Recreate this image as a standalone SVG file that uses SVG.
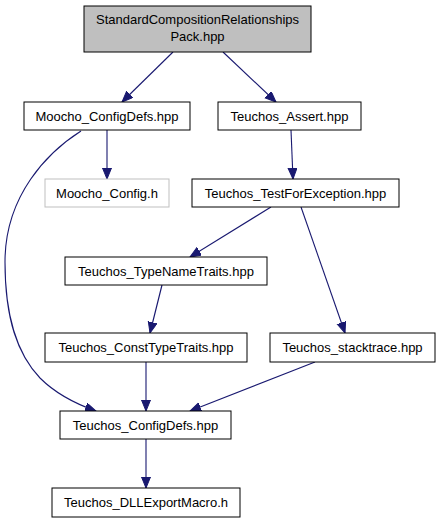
<svg xmlns="http://www.w3.org/2000/svg" width="441" height="523" viewBox="0 0 441 523">
<style>
.n rect{fill:#fff;stroke:#000;stroke-width:1}
.n text{font-family:"Liberation Sans",Arial,sans-serif;font-size:13px;fill:#000;text-anchor:middle}
.e path{fill:none;stroke:#191970;stroke-width:1.1}
</style>
<defs>
<marker id="a" markerUnits="userSpaceOnUse" markerWidth="12" markerHeight="10" refX="11" refY="4.5" orient="auto">
<path d="M0,0 L11,4.5 L0,9 z" fill="#191970" stroke="#191970" stroke-width="1"/>
</marker>
</defs>
<rect width="441" height="523" fill="#fff"/>
<g id="edges" class="e">
<path d="M173,52 L122,102" marker-end="url(#a)"/>
<path d="M223,52 L276,102" marker-end="url(#a)"/>
<path d="M107,130 L107,179" marker-end="url(#a)"/>
<path d="M81,131 C48,152 5,195 5,262 C5,320 18,355 40,378 C56,394 76,404 96,411" marker-end="url(#a)"/>
<path d="M291,130 L293,179" marker-end="url(#a)"/>
<path d="M271,207 L190,257" marker-end="url(#a)"/>
<path d="M301,207 L345,333" marker-end="url(#a)"/>
<path d="M162,285 L150,333" marker-end="url(#a)"/>
<path d="M146,362 L146,411" marker-end="url(#a)"/>
<path d="M315,362 L190,411" marker-end="url(#a)"/>
<path d="M146,439 L146,488" marker-end="url(#a)"/>
</g>
<g id="n0" class="n"><rect x="84" y="6" width="227" height="46" style="fill:#bfbfbf"/><text x="197.5" y="24">StandardCompositionRelationships</text><text x="197.5" y="41">Pack.hpp</text></g>
<g id="n1" class="n"><rect x="24" y="102" width="166" height="28"/><text x="107" y="120.5">Moocho_ConfigDefs.hpp</text></g>
<g id="n2" class="n"><rect x="218" y="102" width="143" height="28"/><text x="289.5" y="120.5">Teuchos_Assert.hpp</text></g>
<g id="n3" class="n"><rect x="45" y="179" width="124" height="28" style="stroke:#bfbfbf"/><text x="107" y="197.5">Moocho_Config.h</text></g>
<g id="n4" class="n"><rect x="192" y="179" width="207" height="28"/><text x="295.5" y="197.5">Teuchos_TestForException.hpp</text></g>
<g id="n5" class="n"><rect x="65" y="257" width="202" height="28"/><text x="166" y="275.5">Teuchos_TypeNameTraits.hpp</text></g>
<g id="n6" class="n"><rect x="45" y="333" width="202" height="29"/><text x="146" y="351.5">Teuchos_ConstTypeTraits.hpp</text></g>
<g id="n7" class="n"><rect x="270" y="333" width="165" height="29"/><text x="352.5" y="351.5">Teuchos_stacktrace.hpp</text></g>
<g id="n8" class="n"><rect x="60" y="411" width="171" height="28"/><text x="145.5" y="429.5">Teuchos_ConfigDefs.hpp</text></g>
<g id="n9" class="n"><rect x="52" y="488" width="188" height="29"/><text x="146" y="506.5">Teuchos_DLLExportMacro.h</text></g>
</svg>
